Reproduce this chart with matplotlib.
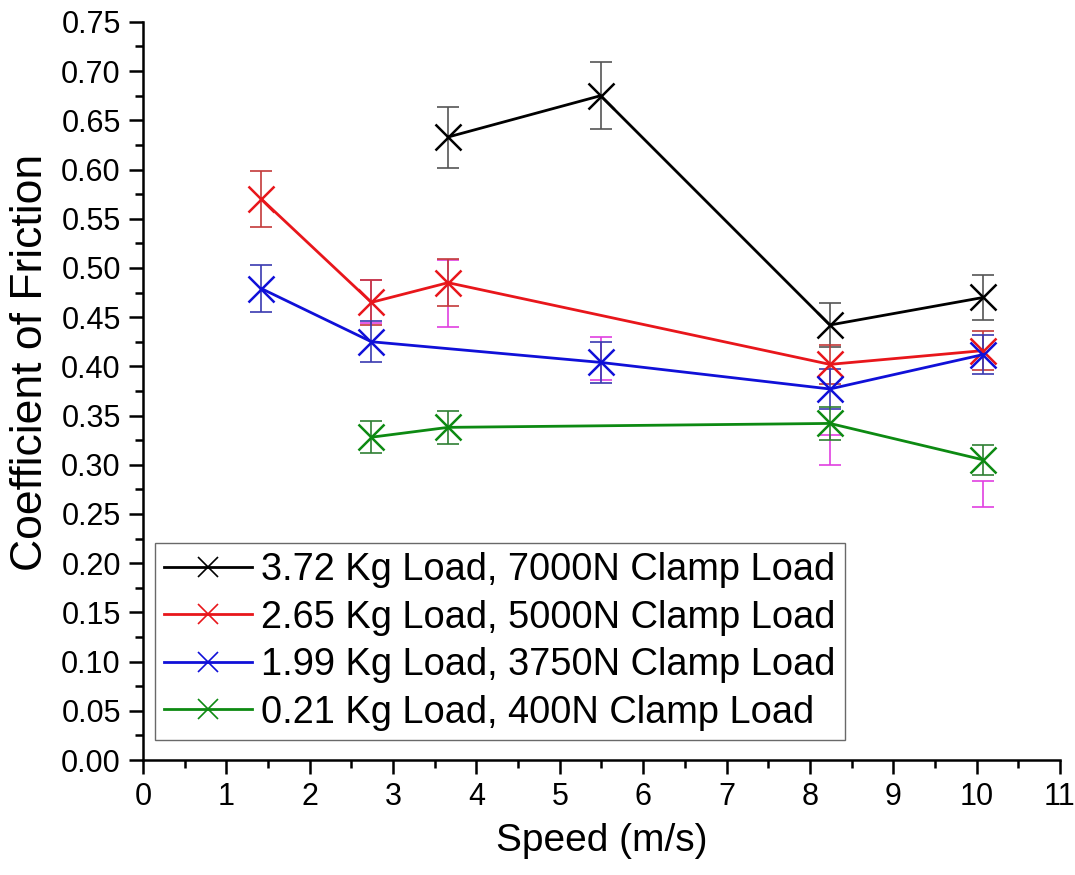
import matplotlib
matplotlib.use("Agg")
import matplotlib.pyplot as plt
from matplotlib.ticker import MultipleLocator

plt.rcParams["font.family"] = ["Liberation Sans", "DejaVu Sans"]

# speeds (m/s) and friction coefficients per load case
speed_black = [3.66, 5.49, 8.24, 10.08]
cof_black = [0.633, 0.675, 0.442, 0.470]
err_black = [0.031, 0.034, 0.022, 0.023]

speed_red = [1.42, 2.74, 3.66, 8.24, 10.08]
cof_red = [0.570, 0.465, 0.485, 0.402, 0.416]
err_red = [0.028, 0.023, 0.024, 0.020, 0.020]

speed_blue = [1.42, 2.74, 5.49, 8.24, 10.08]
cof_blue = [0.479, 0.425, 0.404, 0.377, 0.412]
err_blue = [0.024, 0.021, 0.021, 0.020, 0.020]

speed_green = [2.74, 3.66, 8.24, 10.08]
cof_green = [0.328, 0.338, 0.342, 0.305]
err_green = [0.016, 0.017, 0.017, 0.015]

# extra magenta error bars visible in the figure
speed_mag = [2.74, 3.66, 5.49, 8.24, 10.08]
cof_mag = [0.466, 0.474, 0.408, 0.315, 0.270]
err_mag = [0.022, 0.034, 0.022, 0.015, 0.013]

labels = [
    "3.72 Kg Load, 7000N Clamp Load",
    "2.65 Kg Load, 5000N Clamp Load",
    "1.99 Kg Load, 3750N Clamp Load",
    "0.21 Kg Load, 400N Clamp Load",
]

fig = plt.figure(figsize=(10.75, 8.75), dpi=100)
ax = fig.add_axes([0.133, 0.1314, 0.853, 0.8436])

ax.errorbar(speed_mag, cof_mag, yerr=err_mag, fmt="none", ecolor="#e040e0",
            elinewidth=1.2, capsize=8, capthick=1.2, zorder=1)

series = [
    (speed_black, cof_black, err_black, "black", "#555555"),
    (speed_red, cof_red, err_red, "#e8161b", "#c43a3a"),
    (speed_blue, cof_blue, err_blue, "#1010d8", "#3a3ab0"),
    (speed_green, cof_green, err_green, "#0d8a12", "#2f7f33"),
]
for (x, y, e, col, ecol), lab in zip(series, labels):
    ax.errorbar(x, y, yerr=e, fmt="none", ecolor=ecol, elinewidth=1.2,
                capsize=8, capthick=1.2, zorder=2)
    ax.plot(x, y, color=col, lw=2, marker="x", ms=19, mew=1.8, zorder=3,
            label=lab)

ax.set_xlim(0, 11)
ax.set_ylim(0, 0.75)
ax.xaxis.set_major_locator(MultipleLocator(1))
ax.xaxis.set_minor_locator(MultipleLocator(0.5))
ax.yaxis.set_major_locator(MultipleLocator(0.05))
ax.yaxis.set_minor_locator(MultipleLocator(0.025))
ax.yaxis.set_major_formatter(plt.FormatStrFormatter("%.2f"))

for side in ["top", "right"]:
    ax.spines[side].set_visible(False)
for side in ["left", "bottom"]:
    ax.spines[side].set_linewidth(1.8)
ax.tick_params(which="major", direction="out", length=10, width=1.8,
               labelsize=22, pad=6)
ax.tick_params(which="minor", direction="out", length=6, width=1.8)

ax.set_xlabel("Speed (m/s)", fontsize=28, labelpad=8)
ax.set_ylabel("Coefficient of Friction", fontsize=32, labelpad=10)
ax.yaxis.set_label_coords(-0.100, 0.539)

leg = ax.legend(loc="lower left", bbox_to_anchor=(0.013, 0.027), fontsize=27.4,
                frameon=True, fancybox=False, edgecolor="#444444",
                handlelength=2.3, handletextpad=0.25, borderpad=0.25,
                labelspacing=0.3, borderaxespad=0.0)
leg.get_frame().set_linewidth(1.0)
for h in leg.legend_handles:
    h.set_markersize(14)
    h.set_markeredgewidth(1.2)

fig.savefig("out.png", dpi=100)
